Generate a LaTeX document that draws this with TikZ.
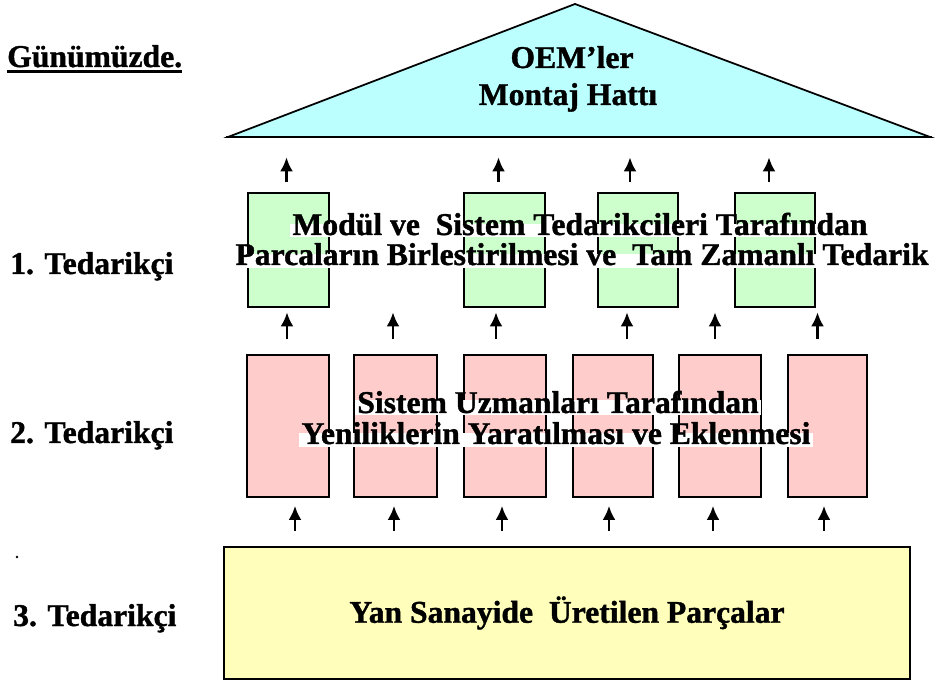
\documentclass[tikz,border=0pt]{standalone}
\usepackage{fontspec}
\setmainfont{Liberation Serif}[BoldFont={Liberation Serif Bold},BoldFeatures={FakeBold=1.2}]
\usetikzlibrary{arrows.meta}
\definecolor{roofcyan}{RGB}{187,255,255}
\definecolor{tierone}{RGB}{204,255,204}
\definecolor{tiertwo}{RGB}{255,204,204}
\definecolor{tierthree}{RGB}{255,255,187}

\begin{document}
\begin{tikzpicture}[x=0.03cm,y=-0.03cm,font=\fontsize{27}{31}\selectfont\bfseries]
  \tikzstyle{box}=[draw,line width=1.3pt,inner sep=0pt]
  \tikzstyle{slab}=[anchor=base,fill=white,inner xsep=2pt,inner ysep=1.5pt,text height=0.8em,text depth=0.1em]
  \tikzstyle{label}=[anchor=base west,inner sep=0pt]
  \tikzstyle{up}=[-{Latex[length=12pt,width=11pt]},line width=2.4pt]
  \useasboundingbox (0,0) rectangle (946,682);
  % roof
  \filldraw[fill=roofcyan,line width=1.5pt] (228,137) -- (575,4) -- (930,137) -- cycle;
  \draw[line width=2.4pt] (226,137) -- (932,137);
  \node[anchor=base,inner sep=0pt] (oem) at (572,68) {OEM'ler};
  \node[anchor=base,inner sep=0pt] (hat) at (568,105) {Montaj Hattı};
  % left labels
  \node[label] (gun) at (7,67) {Günümüzde.};
  \draw[line width=2.4pt] ([yshift=-4pt]gun.base west) -- ([yshift=-4pt]gun.base east);
  \node[label] (t1) at (10,274) {1. Tedarikçi};
  \node[label] (t2) at (10,443) {2. Tedarikçi};
  \fill (17,557) circle (1.1pt);
  \node[label] (t3) at (13,626) {3. Tedarikçi};
  % tier 1
  \foreach \n/\x/\w in {g1/288.5/81,g2/504.5/81,g3/638/80,g4/775/80}
    \node[box,fill=tierone,minimum width=\w*0.3mm,minimum height=34.2mm] (\n) at (\x,250) {};
  \foreach \n/\dx in {g1/-2,g2/-6,g3/-8,g4/-6}
    \draw[up] ([xshift=\dx*0.3mm,yshift=3mm]\n.north) -- ++(0,-25);
  \node[slab] (r1b) at (582,265) {Parcaların Birlestirilmesi ve~ Tam Zamanlı Tedarik};
  \node[slab,text depth=0pt] (r1a) at (580,235) {Modül ve~ Sistem Tedarikcileri Tarafından};
  % tier 2
  \foreach \n/\x/\w in {p1/288/82,p2/395.5/83,p3/505/82,p4/613/80,p5/720/82,p6/827.5/79}
    \node[box,fill=tiertwo,minimum width=\w*0.3mm,minimum height=42.6mm] (\n) at (\x,426) {};
  \foreach \n/\dx in {p1/-1,p2/-2.5,p3/-9,p4/14,p5/-5,p6/-10}
    \draw[up] ([xshift=\dx*0.3mm,yshift=4.5mm]\n.north) -- ++(0,-27);
  \node[slab] (r2b) at (556,444) {Yeniliklerin Yaratılması ve Eklenmesi};
  \node[slab,text depth=0pt,text height=0.95em] (r2a) at (558,413) {Sistem Uzmanları Tarafından};
  % tier 3
  \node[box,fill=tierthree,minimum width=205.8mm,minimum height=39.6mm] (base) at (567,613) {Yan Sanayide~ Üretilen Parçalar};
  \foreach \n/\dx in {p1/7,p2/-1.5,p3/-3,p4/-4,p5/-7,p6/-3.5}
    \draw[up] ([xshift=\dx*0.3mm,yshift=-9.9mm]\n.south) -- ++(0,-25);
\end{tikzpicture}
\end{document}
